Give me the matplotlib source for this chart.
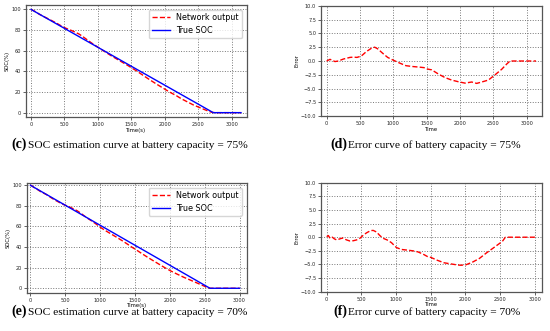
import numpy as np
import matplotlib.pyplot as plt

# --- capacity 75% (panels c, d) ---
t_true_75 = [0, 2725, 3140]
soc_true_75 = [100, 0, 0]

t_75 = [0, 50, 125, 175, 250, 350, 400, 455, 520, 595, 670, 720, 765, 840, 915,
        990, 1090, 1190, 1290, 1385, 1460, 1510, 1575, 1675, 1775, 1875, 1975,
        2075, 2175, 2250, 2325, 2425, 2525, 2625, 2700, 2750, 3140]
soc_net_75 = [100.0, 98.47, 95.31, 93.58, 91.18, 87.81, 86.02, 83.95, 81.82, 79.87,
              77.71, 76.08, 74.13, 70.57, 67.07, 63.87, 59.65, 55.48, 51.66, 48.07,
              45.22, 43.14, 40.60, 36.18, 31.86, 27.74, 23.77, 19.85, 16.38, 13.38,
              10.88, 7.56, 4.84, 2.17, 0.37, 0.0, 0.0]
err_75 = [0.0, 0.3, -0.1, 0.0, 0.35, 0.65, 0.7, 0.65, 0.9, 1.7, 2.3, 2.5, 2.2, 1.4,
          0.65, 0.2, -0.35, -0.85, -1.0, -1.1, -1.2, -1.45, -1.6, -2.35, -3.0, -3.45,
          -3.75, -4.0, -3.8, -4.05, -3.8, -3.45, -2.5, -1.5, -0.55, 0.0, 0.0]

# --- capacity 70% (panels e, f) ---
t_true_70 = [0, 2575, 3000]
soc_true_70 = [100, 0, 0]

t_70 = [0, 24, 48, 81, 110, 144, 191, 230, 287, 335, 383, 430, 478, 526, 574, 632,
        670, 718, 766, 813, 871, 933, 1005, 1077, 1148, 1244, 1316, 1388, 1459, 1500,
        1597, 1693, 1790, 1887, 1935, 2008, 2105, 2200, 2295, 2393, 2490, 2535, 2575, 3000]
soc_net_70 = [100.0, 99.37, 97.94, 96.85, 95.43, 93.91, 92.28, 90.92, 88.35, 86.29,
              84.48, 82.80, 81.24, 79.92, 78.51, 76.66, 75.23, 73.07, 70.55, 68.23,
              65.67, 62.77, 59.07, 55.92, 53.07, 49.19, 46.19, 43.00, 39.74, 38.05,
              33.73, 29.55, 25.59, 21.62, 19.70, 16.97, 13.70, 10.66, 7.92, 5.02,
              2.15, 0.85, 0.0, 0.0]
err_70 = [0.1, 0.3, -0.2, 0.0, -0.3, -0.5, -0.3, -0.15, -0.5, -0.7, -0.65, -0.5, -0.2,
          0.35, 0.8, 1.2, 1.25, 0.95, 0.3, -0.2, -0.5, -1.0, -1.9, -2.25, -2.35, -2.5,
          -2.7, -3.1, -3.6, -3.7, -4.25, -4.7, -4.9, -5.1, -5.15, -5.05, -4.55, -3.9,
          -2.95, -2.05, -1.15, -0.7, 0.0, 0.0]

captions = [("(c)", "SOC estimation curve at battery capacity = 75%"),
            ("(d)", "Error curve of battery capacity = 75%"),
            ("(e)", "SOC estimation curve at battery capacity = 70%"),
            ("(f)", "Error curve of battery capacity = 70%")]
x_ticks = [0, 500, 1000, 1500, 2000, 2500, 3000]

W, H = 550, 331
fig = plt.figure(figsize=(W / 100, H / 100), dpi=100)


def make_ax(l, t, r, b):
    ax = fig.add_axes([l / W, 1 - b / H, (r - l) / W, (b - t) / H])
    ax.grid(True, linestyle=":", color="#777777", linewidth=0.7)
    ax.tick_params(labelsize=3.6, length=2, width=0.5, pad=1.5, colors="#222222")
    for s in ax.spines.values():
        s.set_color("#555555")
        s.set_linewidth(0.9)
    return ax


def soc_panel(ax, t_true, soc_true, t_net, soc_net, xlim, ylim):
    ax.plot(t_net, soc_net, color="red", linestyle="--", linewidth=1.0, label="Network output")
    ax.plot(t_true, soc_true, color="blue", linewidth=1.0, label="True SOC")
    ax.set_xticks(x_ticks)
    ax.set_yticks(np.arange(0, 101, 20))
    ax.set_xlim(xlim)
    ax.set_ylim(ylim)
    ax.set_xlabel("Time(s)", fontsize=3.8, labelpad=0.3)
    ax.set_ylabel("SOC(%)", fontsize=3.8, labelpad=1)
    ax.legend(loc="upper right", fontsize=5.8, borderaxespad=0.6, handlelength=2.2)


def err_panel(ax, t, err, xlim):
    ax.plot(t, err, color="red", linestyle="--", linewidth=1.0)
    ax.set_xticks(x_ticks)
    ax.set_yticks(np.arange(-10, 10.1, 2.5))
    ax.set_xlim(xlim)
    ax.set_ylim(-10, 10)
    ax.set_xlabel("Time", fontsize=3.8, labelpad=0.3)
    ax.set_ylabel("Error", fontsize=3.8, labelpad=1)


ax_c = make_ax(26, 5, 246.7, 117.3)
soc_panel(ax_c, t_true_75, soc_true_75, t_75, soc_net_75, (-75, 3225), (-4.5, 104.3))
ax_d = make_ax(321, 5.7, 541.7, 116.3)
err_panel(ax_d, t_75, err_75, (-85, 3225))
ax_e = make_ax(26.5, 182.7, 246.7, 292.7)
soc_panel(ax_e, t_true_70, soc_true_70, t_70, soc_net_70, (-57, 3102), (-4.3, 102.5))
ax_f = make_ax(321, 182.7, 541.7, 291.7)
err_panel(ax_f, t_70, err_70, (-82, 3098))

# captions: bold tag, then the text right after it
cap_pos = [(11, 148), (330, 148), (11, 315), (333, 315)]
serif = ["Liberation Serif", "DejaVu Serif"]
tags = []
for (tag, txt), (x, y) in zip(captions, cap_pos):
    t1 = fig.text(x / W, 1 - y / H, tag, fontsize=10, fontweight="bold",
                  family=serif, va="baseline")
    tags.append(t1)
fig.canvas.draw()
renderer = fig.canvas.get_renderer()
for t1, (tag, txt), (x, y) in zip(tags, captions, cap_pos):
    bb = t1.get_window_extent(renderer)
    fig.text((bb.x1 + 1.5) / W, 1 - y / H, txt, fontsize=8.2, family=serif, va="baseline")

fig.savefig("out.png", dpi=100)
